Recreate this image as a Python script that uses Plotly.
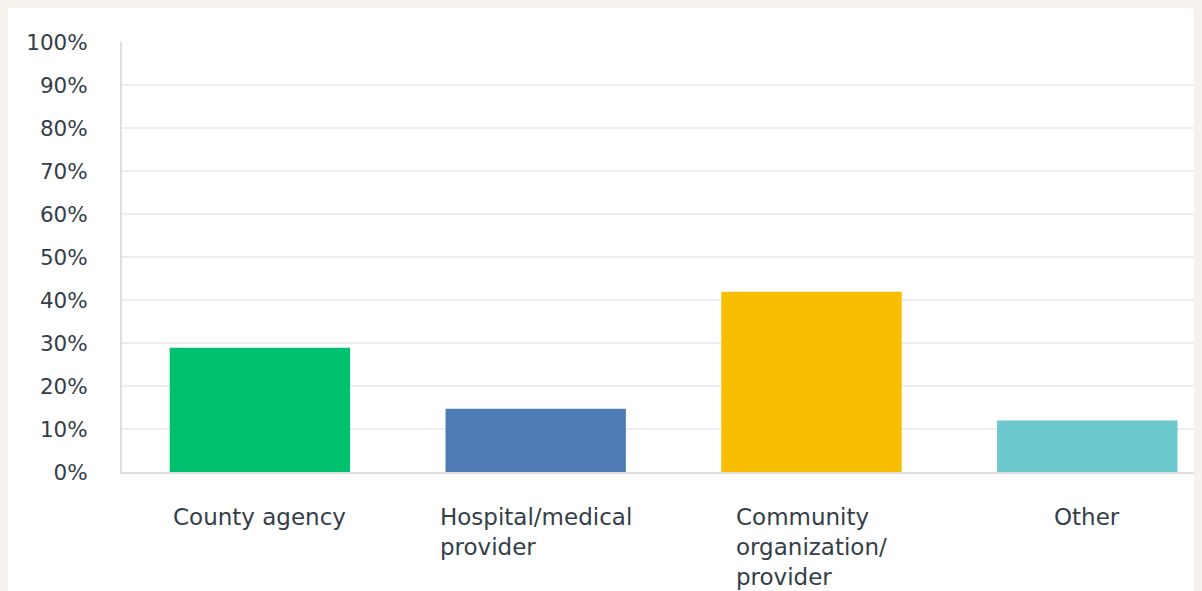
import plotly.graph_objects as go

categories = ["County agency", "Hospital/medical provider", "Community organization/ provider", "Other"]
label_lines = [["County agency"], ["Hospital/medical", "provider"], ["Community", "organization/", "provider"], ["Other"]]
values = [28.9, 14.7, 41.9, 12.0]
colors = ["#00bf6f", "#507cb6", "#f9be00", "#6bc8cd"]
y_ticks = [0, 10, 20, 30, 40, 50, 60, 70, 80, 90, 100]

# page body keeps its default 8px margin; figure sits at (8, 8)
W, H = 1194, 583
ML, MT, MB = 114, 34, 119
PW = W - ML
band = 275.8

fig = go.Figure()
fig.add_trace(go.Bar(
    x=list(range(len(categories))),
    y=values,
    marker=dict(color=colors, line=dict(width=0)),
    width=0.654,
    hoverinfo="skip",
))

text_color = "#333e48"
for i, lines in enumerate(label_lines):
    fig.add_annotation(
        x=i, xref="x", y=0, yref="paper",
        xanchor="center", yanchor="top", yshift=-30,
        text="<br>".join(lines), align="left", showarrow=False,
        font=dict(family="DejaVu Sans", size=23, color=text_color),
    )

fig.update_layout(
    width=W, height=H,
    margin=dict(l=ML, r=0, t=MT, b=MB, pad=0),
    paper_bgcolor="white",
    plot_bgcolor="white",
    showlegend=False,
    xaxis=dict(
        range=[-0.5, -0.5 + PW / band],
        showticklabels=False, ticks="", showgrid=False, zeroline=False,
        showline=True, linecolor="#dedede", linewidth=2,
        fixedrange=True,
    ),
    yaxis=dict(
        range=[0, 100], tickvals=y_ticks, ticktext=[f"{v}%" for v in y_ticks],
        showgrid=True, gridcolor="#eeeeee", gridwidth=2, zeroline=False,
        showline=True, linecolor="#dedede", linewidth=2,
        ticks="", ticklabelstandoff=28,
        tickfont=dict(family="DejaVu Sans", size=21.5, color=text_color),
        fixedrange=True,
    ),
)

fig.write_html(
    "out.html",
    config={"displayModeBar": False},
    post_script="document.body.style.background='#f6f3ef';document.documentElement.style.background='#f6f3ef';",
)
